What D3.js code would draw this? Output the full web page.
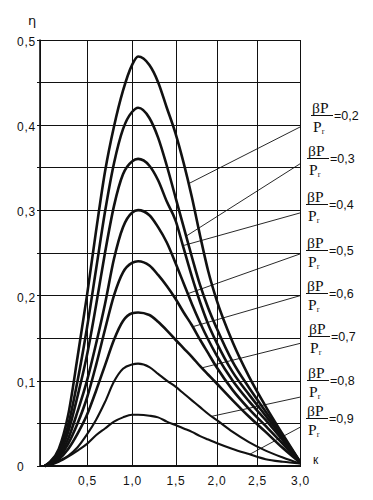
<!DOCTYPE html>
<html><head><meta charset="utf-8">
<script src="https://cdn.jsdelivr.net/npm/d3@7"></script>
<style>body{margin:0;background:#fff}svg{display:block}</style>
</head><body>
<svg id="chart" width="373" height="500"></svg>
<script>
// ---------------- data ----------------
const kValues = [0.05,0.1,0.2,0.3,0.4,0.5,0.6,0.7,0.8,0.9,1.0,1.07,1.2,1.3,1.4,1.5,1.6,1.7,1.8,1.9,2.0,2.2,2.4,2.6,2.8,3.0];
const eta02 = [0,.004,.02,.06,.128,.2,.275,.345,.398,.44,.47,.48,.47,.45,.42,.39,.355,.315,.27,.228,.195,.145,.105,.07,.037,.005];
const eta03 = [0,.004,.017,.048,.1,.162,.23,.298,.355,.395,.415,.42,.408,.385,.352,.315,.28,.245,.212,.185,.162,.122,.092,.064,.035,.005];
const eta04 = [0,.003,.014,.04,.082,.13,.188,.25,.305,.342,.357,.36,.352,.335,.31,.288,.255,.222,.192,.166,.145,.11,.084,.059,.033,.005];
const eta05 = [0,.003,.012,.032,.064,.1,.143,.19,.243,.28,.297,.30,.294,.28,.262,.238,.214,.19,.168,.148,.13,.1,.076,.054,.03,.004];
const eta06 = [0,.002,.01,.026,.05,.08,.118,.16,.2,.227,.238,.24,.235,.224,.211,.196,.18,.165,.148,.132,.116,.089,.067,.047,.026,.004];
const eta07 = [0,.002,.008,.02,.038,.06,.088,.118,.148,.17,.179,.18,.177,.169,.159,.148,.138,.128,.117,.107,.097,.077,.058,.04,.021,.004];
const eta08 = [0,.002,.006,.012,.022,.037,.054,.075,.099,.114,.119,.12,.116,.108,.1,.093,.085,.077,.069,.061,.054,.04,.028,.018,.01,.003];
const eta09 = [0,.001,.005,.011,.018,.026,.036,.044,.052,.057,.06,.06,.059,.057,.052,.048,.044,.04,.035,.031,.027,.02,.014,.008,.005,.003];
const ratioLabels = ["0,2","0,3","0,4","0,5","0,6","0,7","0,8","0,9"];
const leaderStartEta = [0.398,0.355,0.297,0.249,0.200,0.144,0.081,0.046];
const leaderEndK = [1.66,1.63,1.59,1.65,1.71,1.82,1.94,2.41];
const xTickValues = [0.5,1.0,1.5,2.0,2.5,3.0];
const xTickLabels = ["0,5","1,0","1,5","2,0","2,5","3,0"];
const yTickValues = [0,0.1,0.2,0.3,0.4,0.5];
const yTickLabels = ["0","0,1","0,2","0,3","0,4","0,5"];

// ---------------- layout ----------------
const series = [eta02,eta03,eta04,eta05,eta06,eta07,eta08,eta09];
const labelBarY = [115,158,204,250,293,336,380,418];
const labelX = [312,308,307,307,307,309,308,307];

const svg = d3.select("#chart");
const x = d3.scaleLinear().domain([0,0.5,1,1.5,2,2.5,3]).range([40,87,132,175.5,216.5,257,300]);
const y = d3.scaleLinear().domain([0,0.5]).range([466,39.5]);
const ink = "#111";

// grid
const g = svg.append("g").attr("stroke", ink).attr("stroke-width", 1).attr("shape-rendering","crispEdges");
d3.range(0, 0.5001, 0.05).forEach(v => {
  g.append("line").attr("x1", x(0)).attr("x2", x(3)).attr("y1", Math.round(y(v))+0.5).attr("y2", Math.round(y(v))+0.5);
  g.append("line").attr("x1", x(0)-3).attr("x2", x(0)).attr("y1", Math.round(y(v))+0.5).attr("y2", Math.round(y(v))+0.5);
});
[0].concat(xTickValues).forEach(v => {
  g.append("line").attr("x1", Math.round(x(v))+0.5).attr("x2", Math.round(x(v))+0.5).attr("y1", y(0.5)).attr("y2", y(0)+1);
});
svg.append("line").attr("x1",x(0)).attr("x2",x(3)).attr("y1",y(0)).attr("y2",y(0)).attr("stroke",ink).attr("stroke-width",1.8);
svg.append("line").attr("x1",x(0)).attr("x2",x(0)).attr("y1",y(0.5)).attr("y2",y(0)).attr("stroke",ink).attr("stroke-width",1.6);

// axes labels
const xAxis = d3.axisBottom(x).tickValues(xTickValues).tickSize(0).tickPadding(0)
  .tickFormat((d,i) => xTickLabels[i]);
const xa = svg.append("g").attr("transform", `translate(0,${y(0)+19})`).call(xAxis);
xa.select(".domain").remove();
xa.selectAll("text").attr("font-family","Liberation Sans, Arial, sans-serif").attr("font-size","12px")
  .attr("letter-spacing","0.8px").attr("fill", ink).attr("dy","0");

const yAxis = d3.axisLeft(y).tickValues(yTickValues).tickSize(0).tickPadding(0)
  .tickFormat((d,i) => yTickLabels[i]);
const ya = svg.append("g").attr("transform", `translate(36,2)`).call(yAxis);
ya.select(".domain").remove();
ya.selectAll("text").attr("font-family","Liberation Sans, Arial, sans-serif").attr("font-size","12px")
  .attr("letter-spacing","0.8px").attr("fill", ink);
ya.selectAll(".tick").filter(d => d === 0).select("text").attr("text-anchor","start").attr("x", -19).attr("dy","0.2em");

svg.append("text").attr("x", 28).attr("y", 25).text("η")
  .attr("font-family","DejaVu Sans, sans-serif").attr("font-size","13px").attr("fill", ink);
svg.append("text").attr("x", 313).attr("y", 464).text("к")
  .attr("font-family","Liberation Sans, Arial, sans-serif").attr("font-size","12px").attr("fill", ink);

// curves
const line = d3.line().x(d => x(d[0])).y(d => y(d[1])).curve(d3.curveMonotoneX);
series.forEach((s, i) => {
  svg.append("path").datum(kValues.map((k, j) => [k, s[j]]))
    .attr("d", line).attr("fill","none").attr("stroke", ink)
    .attr("stroke-width", i >= 6 ? 2.1 : 2.6).attr("stroke-linejoin","round");
});

// leaders
function etaAt(s, k) {
  const j = d3.bisectRight(kValues, k) - 1;
  const t = (k - kValues[j]) / (kValues[j+1] - kValues[j]);
  return s[j] + t * (s[j+1] - s[j]);
}
series.forEach((s, i) => {
  svg.append("line").attr("x1", x(3)+1).attr("y1", y(leaderStartEta[i]))
    .attr("x2", x(leaderEndK[i])).attr("y2", y(etaAt(s, leaderEndK[i])))
    .attr("stroke", ink).attr("stroke-width", 0.9);
});

// labels βP / Pr = value
ratioLabels.forEach((lab, i) => {
  const by = labelBarY[i], lx = labelX[i];
  const grp = svg.append("g").attr("fill", ink);
  grp.append("text").attr("x", lx).attr("y", by - 2).text("βP")
    .attr("font-family","Liberation Serif, Times New Roman, serif").attr("font-size","15.5px");
  grp.append("line").attr("x1", lx - 1).attr("x2", lx + 21).attr("y1", by + 0.5).attr("y2", by + 0.5)
    .attr("stroke", ink).attr("stroke-width", 1);
  const pr = grp.append("text").attr("x", lx + 1).attr("y", by + 17)
    .attr("font-family","Liberation Serif, Times New Roman, serif").attr("font-size","15.5px");
  pr.append("tspan").text("P");
  pr.append("tspan").text("r").attr("font-size","8px").attr("dy", 2);
  grp.append("text").attr("x", lx + 22).attr("y", by + 4.5).text("=" + lab)
    .attr("font-family","Liberation Sans, Arial, sans-serif").attr("font-size","12.5px");
});
</script>
</body></html>
